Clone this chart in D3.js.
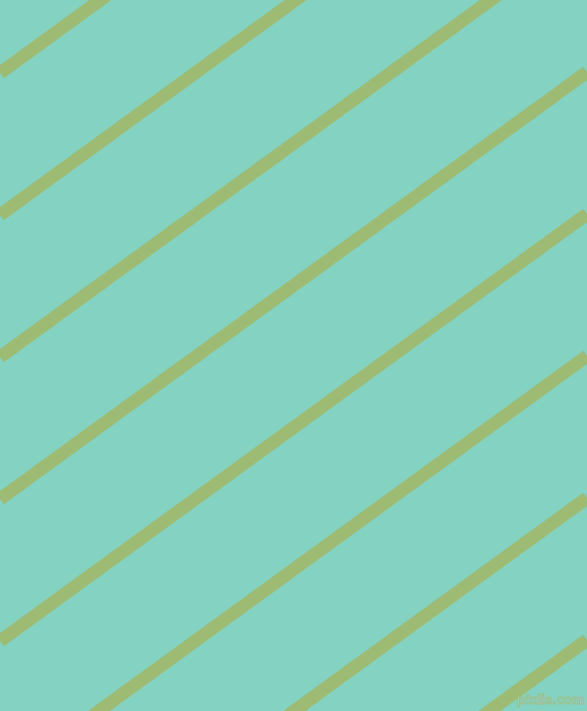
<!DOCTYPE html>
<html>
<head>
<meta charset="utf-8">
<script src="https://cdn.jsdelivr.net/npm/d3@7"></script>
<style>
  html, body { margin: 0; padding: 0; background: #84d2c1; overflow: hidden; }
  svg { display: block; }
</style>
</head>
<body>
<svg id="chart"></svg>
<script>
// stripe positions: where each stripe meets the left edge (x=0) and right edge (x=587)
const stripeIds = [0, 1, 2, 3, 4, 5, 6, 7];
const leftY = [73, 215, 357, 499, 641, 783, 925, 1067];
const rightY = [-354, -212, -70, 72, 214, 356, 498, 640];
const watermark = 'pixlis.com';

const width = 587;
const height = 711;

const svg = d3.select('#chart')
    .attr('width', width)
    .attr('height', height);

const xscale = d3.scaleLinear().domain([0, 587]).range([0, width]);
const yscale = d3.scaleLinear().domain([0, 711]).range([0, height]);

svg.append('rect')
    .attr('width', width)
    .attr('height', height)
    .attr('fill', '#84d2c1');

const stripes = stripeIds.map(i => ({ y0: leftY[i], y1: rightY[i] }));

svg.selectAll('line.stripe')
    .data(stripes)
    .enter()
    .append('line')
    .attr('class', 'stripe')
    .attr('x1', xscale(0))
    .attr('y1', d => yscale(d.y0))
    .attr('x2', xscale(587))
    .attr('y2', d => yscale(d.y1))
    .attr('stroke', '#9ebb73')
    .attr('stroke-width', 13);

svg.append('text')
    .attr('x', 585)
    .attr('y', 704)
    .attr('text-anchor', 'end')
    .style('font-family', 'DejaVu Sans, sans-serif')
    .style('font-size', '12px')
    .style('font-weight', 'bold')
    .attr('fill', '#84d2c1')
    .attr('stroke', '#a3bf85')
    .attr('stroke-width', 0.8)
    .text(watermark);
</script>
</body>
</html>
